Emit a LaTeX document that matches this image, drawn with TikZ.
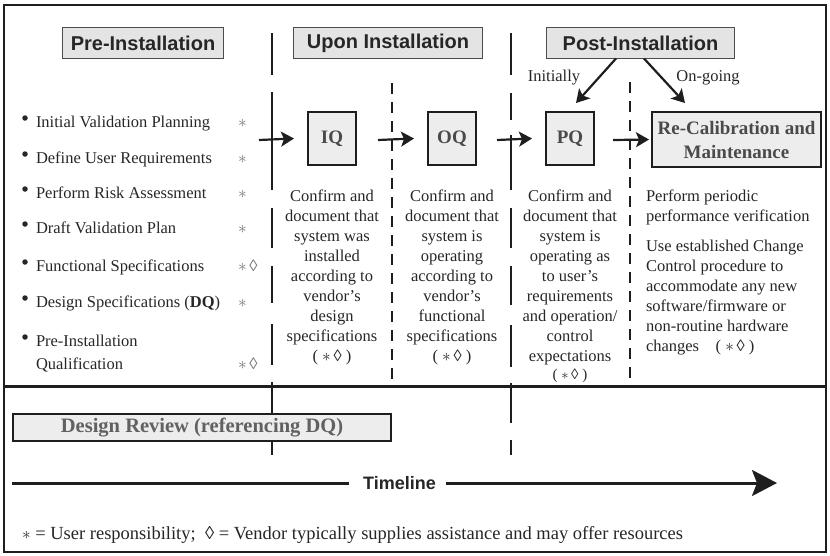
\documentclass[tikz,border=0pt]{standalone}
\usepackage{fontspec}
\setmainfont{Liberation Serif}
\newfontfamily\hdfont{Liberation Sans}
\usetikzlibrary{arrows.meta}
\definecolor{txt}{HTML}{262626}
\definecolor{boxfill}{HTML}{EDEDED}
\definecolor{hdfill}{HTML}{E4E4E4}
\definecolor{qtxt}{HTML}{4A4A4A}
\definecolor{ln}{HTML}{1E1E1E}
\newcommand{\sdm}{$\ast$\,◊}
\begin{document}
\begin{tikzpicture}[x=1pt,y=-1pt,
  every node/.style={inner sep=0pt, outer sep=0pt},
  body/.style={font=\fontsize{16.5}{20}\selectfont, text=txt},
  hdbox/.style={draw=black!70, line width=1pt, fill=hdfill, minimum height=31pt,
    font=\hdfont\bfseries\fontsize{20}{24}\selectfont, text=txt},
  qbox/.style={draw=ln, line width=2.4pt, fill=boxfill,
    font=\bfseries\fontsize{19}{24}\selectfont, text=qtxt},
  col/.style={body, align=center, anchor=north},
  star/.style={body, anchor=base west, text=black!55},
  bul/.style={circle, fill=txt, minimum size=5.5pt},
  item/.style={body, anchor=base west},
  phase/.style={line width=2.2pt, draw=ln},
  shortdash/.style={phase, dash pattern=on 11pt off 8pt},
  flow/.style={line width=2.2pt, draw=ln, -{Stealth[length=13pt,width=15pt,inset=3pt]}},
]
\useasboundingbox (0,0) rectangle (830,555);

% phase dividers
\foreach \a/\b in {33/75, 92/190, 208/248, 266/303, 324/365, 382/455}
  \draw[phase] (272,\a) -- (272,\b);
\foreach \a/\b in {33/75, 93/120, 135/190, 208/248, 266/305, 325/367, 383/423, 440/455}
  \draw[phase] (511,\a) -- (511,\b);
\draw[shortdash] (392,83) -- (392,380);
\draw[shortdash] (630,82) -- (630,380);

% frame and separator
\draw[line width=2pt, draw=ln] (4,5) rectangle (826,552);
\draw[line width=3pt, draw=ln] (4,386) -- (826,386);

% headers
\node[hdbox, minimum width=161pt] (pre) at (143,43) {Pre-Installation};
\node[hdbox, minimum width=189pt] (upon) at (388,43) {Upon Installation};
\node[hdbox, minimum width=188pt] (post) at (640.5,43) {Post-Installation};

% qualification boxes
\node[qbox, minimum width=48pt, minimum height=53pt] (iq) at (332,138.5) {IQ};
\node[qbox, minimum width=48pt, minimum height=53pt] (oq) at (452,138.5) {OQ};
\node[qbox, minimum width=48pt, minimum height=53pt] (pq) at (570,138.5) {PQ};
\node[qbox, minimum width=169pt, minimum height=55pt, align=center] (rc) at (736.5,139.5)
  {Re-Calibration and\\Maintenance};

% post-installation branches
\node[body] (init) at (554,78) {Initially};
\node[body] (ongo) at (708,78) {On-going};
\coordinate (ie) at (576,103);
\coordinate (oe) at (685,103);
\draw[flow] ([xshift=-24.5pt]post.south) -- (ie);
\draw[flow] ([xshift=3.5pt]post.south) -- (oe);

% flow arrows
\coordinate (a1) at (259,140);
\coordinate (a2) at (378,140);
\coordinate (a3) at (497,140);
\coordinate (a4) at (613,140);
\draw[flow] (a1) -- ([xshift=-14pt]iq.west);
\draw[flow] (a2) -- ([xshift=-14pt]oq.west);
\draw[flow] (a3) -- ([xshift=-14pt]pq.west);
\draw[flow] (a4) -- ([xshift=-3pt]rc.west);

% left list
\node[bul] (b1) at (25,118) {}; \node[item] (l1) at (36,127) {Initial Validation Planning}; \node[star] (s1) at (238,127) {$\ast$};
\node[bul] (b2) at (25,154) {}; \node[item] (l2) at (36,163) {Define User Requirements}; \node[star] (s2) at (238,163) {$\ast$};
\node[bul] (b3) at (25,189) {}; \node[item] (l3) at (36,198) {Perform Risk Assessment}; \node[star] (s3) at (238,198) {$\ast$};
\node[bul] (b4) at (25,224) {}; \node[item] (l4) at (36,233) {Draft Validation Plan}; \node[star] (s4) at (238,233) {$\ast$};
\node[bul] (b5) at (25,262) {}; \node[item] (l5) at (36,271) {Functional Specifications}; \node[star] (s5) at (238,271) {\sdm};
\node[bul] (b6) at (25,298) {}; \node[item] (l6) at (36,307) {Design Specifications (\textbf{DQ})}; \node[star] (s6) at (238,307) {$\ast$};
\node[bul] (b7) at (25,337) {}; \node[item] (l7) at (36,346) {Pre-Installation};
\node[item] (l8) at (36,369) {Qualification}; \node[star] (s8) at (238,369) {\sdm};

% column descriptions
\node[col] (iqt) at (332,190) {Confirm and\\document that\\system was\\installed\\according to\\vendor's\\design\\specifications\\( \sdm\ )};
\node[col] (oqt) at (452,190) {Confirm and\\document that\\system is\\operating\\according to\\vendor's\\functional\\specifications\\( \sdm\ )};
\node[col] (pqt) at (570,190) {Confirm and\\document that\\system is\\operating as\\to user's\\requirements\\and operation/\\control\\expectations};
\node[body, font=\fontsize{15}{18}\selectfont] (pqs) at (570,376) {( \sdm\ )};
\node[body, anchor=north west, align=left] (rct1) at (646,190) {Perform periodic\\performance verification};
\node[body, anchor=north west, align=left] (rct2) at (646,240) {Use established Change\\Control procedure to\\accommodate any new\\software/firmware or\\non-routine hardware\\changes\quad( \sdm\ )};

% design review
\node[qbox, minimum width=378pt, minimum height=27pt, text=black!62,
  font=\bfseries\fontsize{20.5}{24}\selectfont] (dr) at (202,427.5) {Design Review (referencing DQ)};

% timeline
\node[font=\hdfont\bfseries\fontsize{18}{22}\selectfont, text=txt] (tl) at (399.5,483) {Timeline};
\coordinate (ts) at (12,483);
\coordinate (te) at (777,483);
\draw[line width=3pt, draw=ln] (ts) -- ([xshift=-14pt]tl.west);
\draw[line width=3pt, draw=ln, -{Stealth[length=25pt,width=26pt,inset=5pt]}] ([xshift=10pt]tl.east) -- (te);

% footnote
\node[item, font=\fontsize{18.5}{22}\selectfont] (foot) at (22,539) {$\ast$ = User responsibility;\ \ ◊ = Vendor typically supplies assistance and may offer resources};
\end{tikzpicture}
\end{document}
